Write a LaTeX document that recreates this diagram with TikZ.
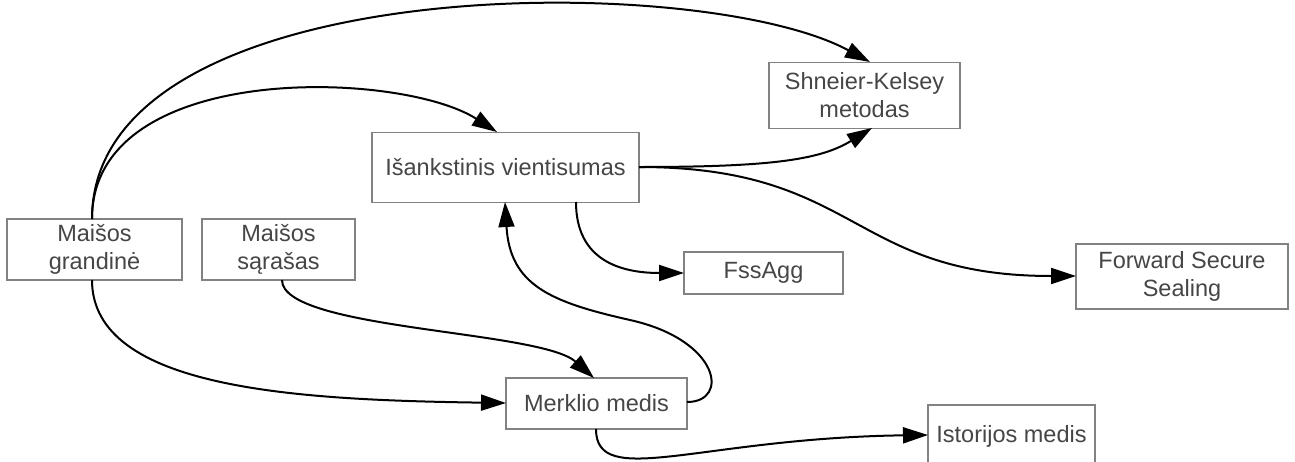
\documentclass[tikz,border=0pt]{standalone}
\usepackage{fontspec}
\setmainfont{Liberation Sans}
\usetikzlibrary{arrows.meta}
\definecolor{boxline}{RGB}{130,130,130}
\definecolor{boxtext}{RGB}{70,70,70}
\tikzset{
  box/.style={draw=boxline, line width=1.3pt, fill=white, inner sep=0pt,
    align=center, text=boxtext, font=\fontsize{23.5}{28}\selectfont},
  link/.style={line width=2pt, -{Triangle[length=25pt,width=16pt]}},
}
\begin{document}
\begin{tikzpicture}[x=1pt,y=-1pt]
\clip (0,0) rectangle (1295,461);
\fill[white] (0,0) rectangle (1295,461);

% boxes
\node[box, minimum width=175pt, minimum height=61pt] (grand) at (94.5,249.5) {Maišos\\grandinė};
\node[box, minimum width=153pt, minimum height=61pt] (sar) at (278.5,249.5) {Maišos\\sąrašas};
\node[box, minimum width=267pt, minimum height=70pt] (isank) at (505.5,167.5) {Išankstinis vientisumas};
\node[box, minimum width=191pt, minimum height=66pt] (shk) at (864.5,95.5) {Shneier-Kelsey\\metodas};
\node[box, minimum width=159pt, minimum height=42pt] (fss) at (763.5,273) {FssAgg};
\node[box, minimum width=212pt, minimum height=65pt] (fwd) at (1182,276.5) {Forward Secure\\Sealing};
\node[box, minimum width=181pt, minimum height=51pt] (merk) at (596.5,403.5) {Merklio medis};
\node[box, minimum width=167pt, minimum height=62pt] (ist) at (1011.5,436) {Istorijos medis};

% anchor points on the box borders
\coordinate (gT) at (92,219);
\coordinate (gB) at (92,280);
\coordinate (sB) at (282,280);
\coordinate (iT) at (497,132);
\coordinate (iB1) at (505,202);
\coordinate (iB2) at (576,202);
\coordinate (iR) at (639,167);
\coordinate (kT) at (870,62);
\coordinate (kB) at (872,128);
\coordinate (fL) at (684,273);
\coordinate (wL) at (1076,276);
\coordinate (mL) at (506,403);
\coordinate (mT) at (594,378);
\coordinate (mR) at (687,402);
\coordinate (mB) at (596,429);
\coordinate (tL) at (928,435);

% connectors
\draw[link] (gT) .. controls (92,-30) and (700,-30) .. (kT);
\draw[link] (gT) .. controls (92,60) and (400,70) .. (iT);
\draw[link] (gB) .. controls (92,390) and (300,400) .. (mL);
\draw[link] (sB) .. controls (282,330) and (540,330) .. (mT);
\draw[link] (mR) .. controls (730,402) and (720,340) .. (630,320)
                 .. controls (550,302) and (510,285) .. (iB1);
\draw[link] (iB2) .. controls (576,260) and (620,273) .. (fL);
\draw[link] (iR) .. controls (770,167) and (820,160) .. (kB);
\draw[link] (iR) .. controls (860,167) and (850,276) .. (wL);
\draw[link] (mB) .. controls (596,490) and (700,438) .. (tL);
\end{tikzpicture}
\end{document}
